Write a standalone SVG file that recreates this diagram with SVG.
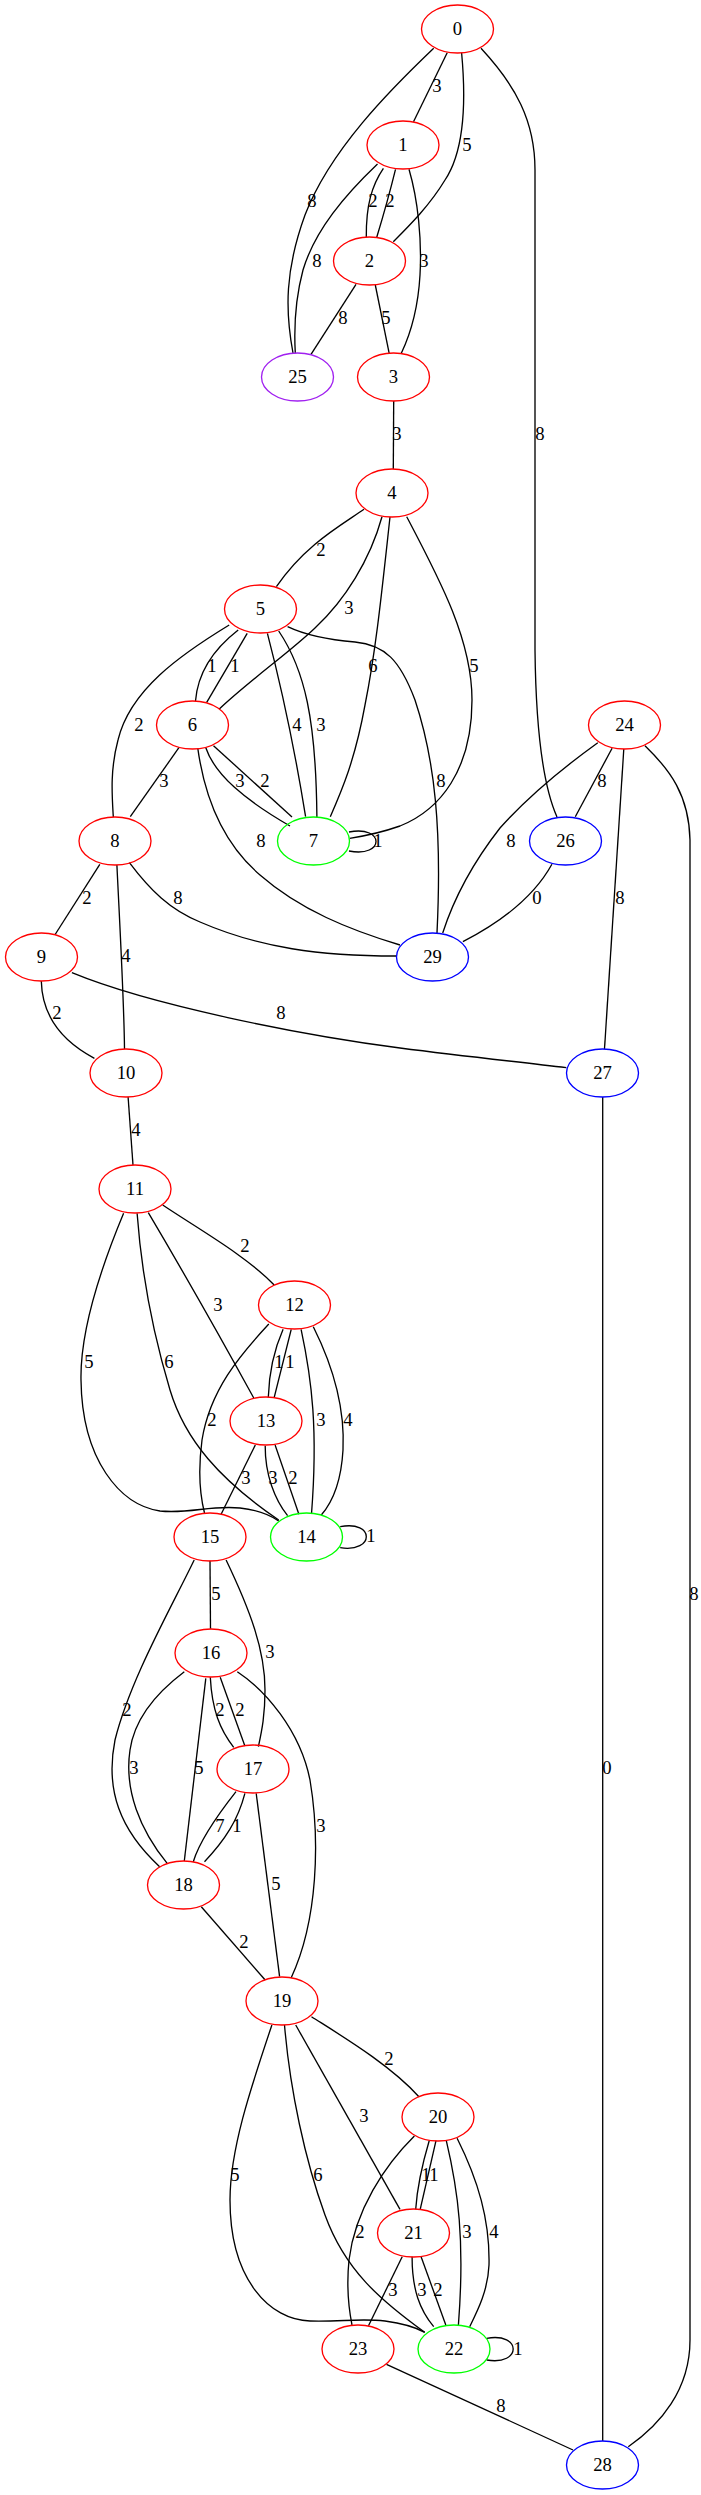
<svg xmlns="http://www.w3.org/2000/svg" width="701" height="2495" viewBox="0 0 701 2495">
<style>
.n ellipse{fill:none;stroke-width:1.33}
.r ellipse{stroke:#ff0000}
.g ellipse{stroke:#00ff00}
.b ellipse{stroke:#0000ff}
.p ellipse{stroke:#a020f0}
text{font-family:"Liberation Serif","Times New Roman",serif;font-size:18.67px;text-anchor:middle;fill:#000}
#edges path{fill:none;stroke:#000;stroke-width:1.33}
</style>
<rect width="701" height="2495" fill="#fff"/>
<g id="edges">
<path d="M447.2,52.7 L413.5,121.7"/><text x="437" y="92">3</text>
<path d="M433.7,48.3 C390,90 330,150 305,215 C285,270 285,310 293,353"/><text x="312" y="207">8</text>
<path d="M461.6,52.7 C466,100 465,150 445,180 C430,205 410,225 393.3,241.7"/><text x="467" y="151">5</text>
<path d="M481,48.3 C515,85 535,120 535,170 L535,650 C536,740 545,790 557,817"/><text x="540" y="440">8</text>
<path d="M383.4,168.3 C372,185 366,205 366.3,237"/><text x="373" y="207">2</text>
<path d="M395.5,169.3 Q388,200 376.6,237.7"/><text x="390" y="207">2</text>
<path d="M377.5,164 C345,195 315,230 303,270 C295,300 294,330 295.3,353.3"/><text x="317" y="267">8</text>
<path d="M409,169.3 C418,200 422,240 420,275 C418,310 410,335 401.3,353.3"/><text x="424" y="267">3</text>
<path d="M356,284.3 L311,354.3"/><text x="343" y="324">8</text>
<path d="M375.3,285 L389.2,353.3"/><text x="386" y="324">5</text>
<path d="M393.7,401 L393.3,469"/><text x="397" y="440">3</text>
<path d="M364,509.3 C340,526 305,545 276.4,586.7"/><text x="321" y="556">2</text>
<path d="M382,516.7 C370,560 345,600 315,628 C290,652 250,680 219.3,709"/><text x="349" y="614">3</text>
<path d="M390,517 C382,590 376,650 365,705 C355,760 342,790 330.3,816.7"/><text x="373" y="672">6</text>
<path d="M406.7,516.7 C440,580 472,640 472,700 C472,770 440,810 400,826 C380,833 365,836 349.7,838.3"/><text x="474" y="672">5</text>
<path d="M238.2,630 C215,648 198,670 195.5,701"/><text x="212" y="672">1</text>
<path d="M247.2,633.3 L206.7,702.3"/><text x="235" y="672">1</text>
<path d="M229.2,625 C180,655 130,690 118,740 C110,770 112,795 113.3,817"/><text x="139" y="731">2</text>
<path d="M267.4,633.3 Q290,720 305.6,816.7"/><text x="297" y="731">4</text>
<path d="M278.7,631 C305,670 316,720 316.9,817"/><text x="321" y="731">3</text>
<path d="M287.6,626.7 C305,635 330,640 355,642 C385,645 400,660 415,700 C435,760 442,830 437,933"/><text x="441" y="787">8</text>
<path d="M178.9,747.7 L130.3,816.7"/><text x="164" y="787">3</text>
<path d="M205.8,747.7 C215,775 245,800 290,826"/><text x="240" y="787">3</text>
<path d="M213.5,745.7 L292,817"/><text x="265" y="787">2</text>
<path d="M197.8,748.3 C205,800 225,845 260,875 C300,910 350,930 400,945"/><text x="261" y="847">8</text>
<path d="M349,832 C385,825 385,858 349,851"/><text x="378" y="847">1</text>
<path d="M597.8,742.7 C560,770 525,800 500,828 C475,860 455,895 442.7,933"/><text x="511" y="847">8</text>
<path d="M612.1,748.3 L575.3,816.7"/><text x="602" y="787">8</text>
<path d="M623.8,749 L604.5,1049"/><text x="620" y="904">8</text>
<path d="M645,745.7 C670,770 689,795 690,840 L690,2340 C690,2390 660,2425 628.3,2446.7"/><text x="694" y="1600">8</text>
<path d="M551.9,864.3 C535,895 505,920 462.9,941.7"/><text x="537" y="904">0</text>
<path d="M99.8,864.3 L54.8,935"/><text x="87" y="904">2</text>
<path d="M116.9,865 C120,930 124,1000 124.5,1049"/><text x="126" y="962">4</text>
<path d="M129.4,862.7 C150,890 170,910 200,922 C260,948 320,956 396,956"/><text x="178" y="904">8</text>
<path d="M41.3,981 C42,1015 60,1040 94.4,1058.3"/><text x="57" y="1019">2</text>
<path d="M71.9,972.7 C150,1005 300,1035 400,1048 C470,1057 520,1062 566.3,1067.7"/><text x="281" y="1019">8</text>
<path d="M602.7,1097 L602.7,2441"/><text x="607" y="1774">0</text>
<path d="M128.1,1097 L133,1165"/><text x="136" y="1136">4</text>
<path d="M162.7,1205 C200,1230 245,1255 274.2,1285"/><text x="245" y="1252">2</text>
<path d="M148.3,1212.7 Q200,1300 253.9,1398.3"/><text x="218" y="1311">3</text>
<path d="M137.1,1213.3 C142,1280 155,1340 170,1390 C185,1440 220,1480 278.7,1520"/><text x="169" y="1368">6</text>
<path d="M123.6,1213.3 C100,1270 80,1330 81,1380 C82,1460 120,1505 160,1511 C190,1514 210,1505 240,1508 C258,1510 270,1515 278.7,1521"/><text x="89" y="1368">5</text>
<path d="M283.1,1329.3 C274,1350 269,1375 268.3,1397.3"/><text x="279" y="1368">1</text>
<path d="M291.2,1329.3 L274.2,1397.3"/><text x="290" y="1368">1</text>
<path d="M268.8,1324 C240,1355 210,1390 202,1440 C198,1470 200,1495 204.5,1513"/><text x="212" y="1426">2</text>
<path d="M301.1,1329.3 C312,1380 318,1430 311.5,1514"/><text x="321" y="1426">3</text>
<path d="M313.3,1326.7 C335,1370 345,1410 343,1450 C341,1485 330,1505 321.3,1515"/><text x="348" y="1426">4</text>
<path d="M255.3,1445 L221.1,1514.3"/><text x="246" y="1484">3</text>
<path d="M265.2,1445.7 C265,1475 275,1500 287.6,1515.7"/><text x="273" y="1484">3</text>
<path d="M275.1,1445 L298.9,1514.3"/><text x="293" y="1484">2</text>
<path d="M340.2,1526.7 C375,1520 375,1553 340.2,1547.7"/><text x="371" y="1542">1</text>
<path d="M210,1560.7 L210.5,1628.7"/><text x="216" y="1600">5</text>
<path d="M194.2,1560 C170,1610 130,1680 115,1740 C105,1790 120,1830 159.6,1866.7"/><text x="127" y="1716">2</text>
<path d="M226.1,1560 C250,1610 265,1650 265,1690 C265,1715 262,1730 258.4,1746.7"/><text x="270" y="1658">3</text>
<path d="M210.3,1677.3 C212,1710 220,1730 233.7,1747.3"/><text x="220" y="1716">2</text>
<path d="M220.2,1677.3 L244.9,1746"/><text x="240" y="1716">2</text>
<path d="M184.3,1671.7 C160,1690 135,1715 130,1750 C124,1790 140,1830 167.2,1863.3"/><text x="134" y="1774">3</text>
<path d="M205.8,1678.3 L184.3,1861"/><text x="199" y="1774">5</text>
<path d="M237.3,1671.7 C265,1690 300,1730 310,1780 C320,1840 318,1920 291.2,1977.7"/><text x="321" y="1832">3</text>
<path d="M236,1791.7 C220,1812 200,1840 193.3,1861.7"/><text x="220" y="1832">7</text>
<path d="M244.9,1793.3 C238,1820 225,1840 204.5,1861.7"/><text x="237" y="1832">1</text>
<path d="M256.2,1793.3 L279.6,1976.7"/><text x="276" y="1890">5</text>
<path d="M201.3,1906.7 L265.2,1980"/><text x="244" y="1948">2</text>
<path d="M311.5,2016.7 C345,2038 390,2065 418.9,2096.7"/><text x="389" y="2065">2</text>
<path d="M295.7,2025 L400,2209.3"/><text x="364" y="2122">3</text>
<path d="M284.5,2025 C290,2090 305,2160 325,2215 C345,2270 380,2300 424.7,2332.3"/><text x="318" y="2181">6</text>
<path d="M271.9,2025 C250,2090 230,2150 230,2200 C230,2280 270,2320 310,2321 C340,2322 360,2318 385,2321 C400,2323 415,2327 424.7,2332.3"/><text x="235" y="2181">5</text>
<path d="M429.2,2140.7 C422,2165 417,2190 415.7,2209.3"/><text x="426" y="2181">1</text>
<path d="M436,2140.7 L420.2,2209.3"/><text x="434" y="2181">1</text>
<path d="M414.4,2136 C385,2165 355,2210 349,2260 C346,2290 349,2310 352,2325"/><text x="360" y="2238">2</text>
<path d="M446.3,2140.7 C458,2190 465,2240 458.4,2325"/><text x="467" y="2238">3</text>
<path d="M457.1,2138.3 C478,2180 490,2220 489,2265 C488,2290 478,2310 469.7,2326.7"/><text x="494" y="2238">4</text>
<path d="M402.2,2256.7 L368.5,2325.7"/><text x="393" y="2296">3</text>
<path d="M412.1,2256.7 C412,2290 420,2310 433.7,2326.7"/><text x="422" y="2296">3</text>
<path d="M421.1,2256.7 L445.8,2325"/><text x="438" y="2296">2</text>
<path d="M486.7,2338.3 C522,2332 522,2366 486.7,2360"/><text x="518" y="2355">1</text>
<path d="M386.5,2364.3 L573,2450"/><text x="501" y="2412">8</text>
</g>
<g id="n0" class="n r"><ellipse cx="457.5" cy="29" rx="36" ry="24"/><text x="457.5" y="35">0</text></g>
<g id="n1" class="n r"><ellipse cx="403" cy="145" rx="36" ry="24"/><text x="403" y="151">1</text></g>
<g id="n2" class="n r"><ellipse cx="369.5" cy="261" rx="36" ry="24"/><text x="369.5" y="267">2</text></g>
<g id="n25" class="n p"><ellipse cx="297.5" cy="377" rx="36" ry="24"/><text x="297.5" y="383">25</text></g>
<g id="n3" class="n r"><ellipse cx="393.5" cy="377" rx="36" ry="24"/><text x="393.5" y="383">3</text></g>
<g id="n4" class="n r"><ellipse cx="392" cy="493" rx="36" ry="24"/><text x="392" y="499">4</text></g>
<g id="n5" class="n r"><ellipse cx="260.5" cy="609" rx="36" ry="24"/><text x="260.5" y="615">5</text></g>
<g id="n6" class="n r"><ellipse cx="192.5" cy="725" rx="36" ry="24"/><text x="192.5" y="731">6</text></g>
<g id="n24" class="n r"><ellipse cx="624.5" cy="725" rx="36" ry="24"/><text x="624.5" y="731">24</text></g>
<g id="n8" class="n r"><ellipse cx="115" cy="841" rx="36" ry="24"/><text x="115" y="847">8</text></g>
<g id="n7" class="n g"><ellipse cx="313.5" cy="841" rx="36" ry="24"/><text x="313.5" y="847">7</text></g>
<g id="n26" class="n b"><ellipse cx="565.5" cy="841" rx="36" ry="24"/><text x="565.5" y="847">26</text></g>
<g id="n9" class="n r"><ellipse cx="41.5" cy="957" rx="36" ry="24"/><text x="41.5" y="963">9</text></g>
<g id="n29" class="n b"><ellipse cx="432.5" cy="957" rx="36" ry="24"/><text x="432.5" y="963">29</text></g>
<g id="n10" class="n r"><ellipse cx="126" cy="1073" rx="36" ry="24"/><text x="126" y="1079">10</text></g>
<g id="n27" class="n b"><ellipse cx="602.5" cy="1073" rx="36" ry="24"/><text x="602.5" y="1079">27</text></g>
<g id="n11" class="n r"><ellipse cx="135" cy="1189" rx="36" ry="24"/><text x="135" y="1195">11</text></g>
<g id="n12" class="n r"><ellipse cx="294.5" cy="1305" rx="36" ry="24"/><text x="294.5" y="1311">12</text></g>
<g id="n13" class="n r"><ellipse cx="266" cy="1421" rx="36" ry="24"/><text x="266" y="1427">13</text></g>
<g id="n15" class="n r"><ellipse cx="210" cy="1537" rx="36" ry="24"/><text x="210" y="1543">15</text></g>
<g id="n14" class="n g"><ellipse cx="306.5" cy="1537" rx="36" ry="24"/><text x="306.5" y="1543">14</text></g>
<g id="n16" class="n r"><ellipse cx="211" cy="1653" rx="36" ry="24"/><text x="211" y="1659">16</text></g>
<g id="n17" class="n r"><ellipse cx="253" cy="1769" rx="36" ry="24"/><text x="253" y="1775">17</text></g>
<g id="n18" class="n r"><ellipse cx="183.5" cy="1885" rx="36" ry="24"/><text x="183.5" y="1891">18</text></g>
<g id="n19" class="n r"><ellipse cx="282" cy="2001" rx="36" ry="24"/><text x="282" y="2007">19</text></g>
<g id="n20" class="n r"><ellipse cx="438" cy="2117" rx="36" ry="24"/><text x="438" y="2123">20</text></g>
<g id="n21" class="n r"><ellipse cx="413.5" cy="2233" rx="36" ry="24"/><text x="413.5" y="2239">21</text></g>
<g id="n23" class="n r"><ellipse cx="358" cy="2349" rx="36" ry="24"/><text x="358" y="2355">23</text></g>
<g id="n22" class="n g"><ellipse cx="454" cy="2349" rx="36" ry="24"/><text x="454" y="2355">22</text></g>
<g id="n28" class="n b"><ellipse cx="602.5" cy="2465" rx="36" ry="24"/><text x="602.5" y="2471">28</text></g>
</svg>
